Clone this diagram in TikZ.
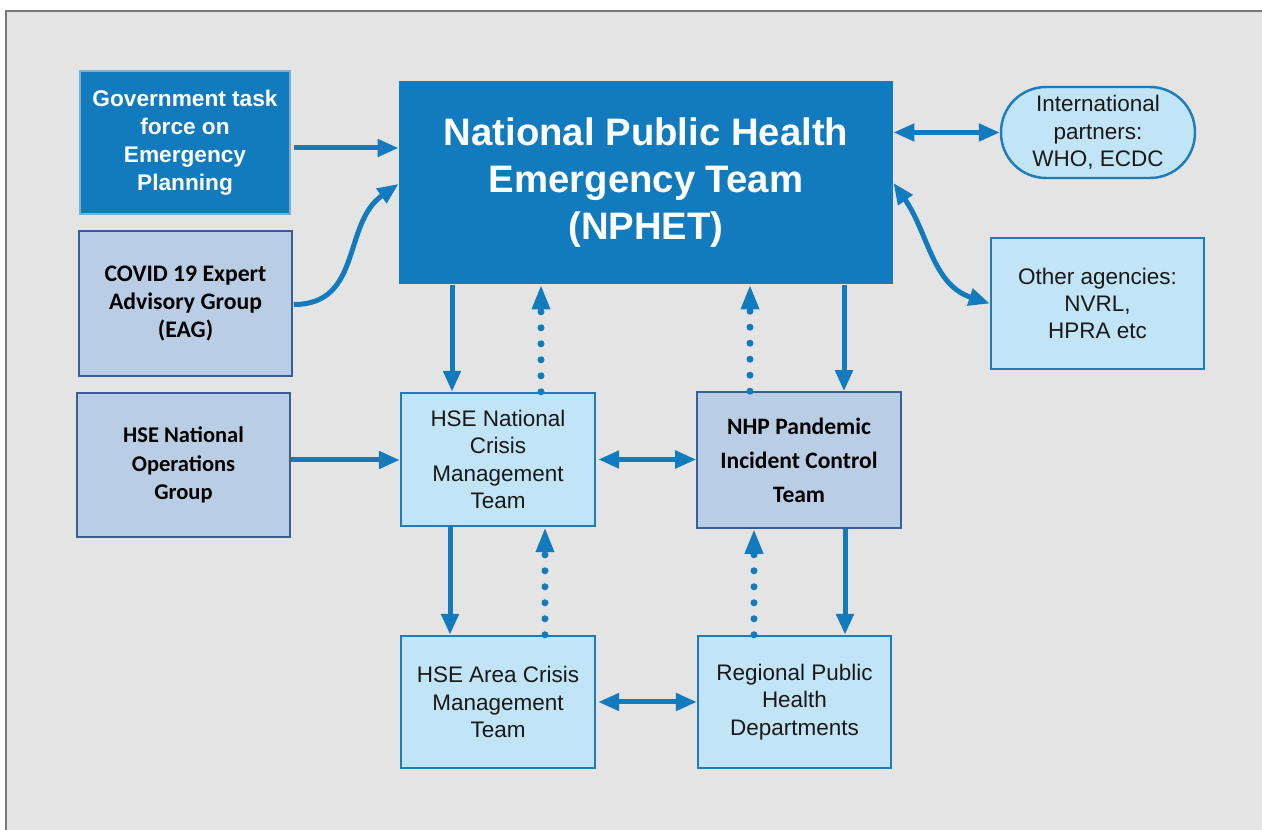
\documentclass[tikz,border=0pt]{standalone}
\usepackage{fontspec}
\usepackage{xcolor}
\setmainfont{Liberation Sans}
\newfontfamily\calibri{Carlito}
\usetikzlibrary{arrows.meta,calc}

\definecolor{nphetblue}{RGB}{17,123,190}
\definecolor{govedge}{RGB}{120,175,215}
\definecolor{steelfill}{RGB}{185,205,228}
\definecolor{steeledge}{RGB}{55,95,150}
\definecolor{skyfill}{RGB}{193,228,246}
\definecolor{skyedge}{RGB}{30,125,185}
\definecolor{bggray}{RGB}{228,228,228}
\definecolor{framegray}{RGB}{120,120,120}

\tikzset{
  darkbox/.style={fill=nphetblue, draw=govedge, line width=0.6pt, text=white,
    align=center, inner sep=0pt},
  steelbox/.style={fill=steelfill, draw=steeledge, line width=0.9pt, text=black,
    align=center, inner sep=0pt},
  skybox/.style={fill=skyfill, draw=skyedge, line width=1.4pt, text=black!90,
    align=center, inner sep=0pt,
    font=\fontsize{12.8pt}{15.6pt}\selectfont},
  arr/.style={draw=nphetblue, line width=0.1cm,
    -{Triangle[length=0.42cm,width=0.34cm]}},
  dblarr/.style={draw=nphetblue, line width=0.1cm,
    {Triangle[length=0.42cm,width=0.34cm]}-{Triangle[length=0.42cm,width=0.34cm]}},
  dotarr/.style={draw=nphetblue, line width=0.14cm, line cap=round,
    dash pattern=on 0pt off 0.32cm,
    -{Triangle[length=0.5cm,width=0.34cm,line cap=butt]}}
}

\begin{document}
\begin{tikzpicture}[x=0.02cm,y=-0.02cm]
  \useasboundingbox (0,0) rectangle (1262,830);
  \fill[white] (0,0) rectangle (1262,830);
  \fill[bggray] (6,11) rectangle (1262,830);
  \draw[framegray, line width=1pt] (6,830) -- (6,11) -- (1262,11);

  % top row
  \node[darkbox, minimum width=4.2cm, minimum height=2.86cm,
    font=\bfseries\fontsize{12.9pt}{15.9pt}\selectfont] (gov) at (185,142.5)
    {Government task\\force on\\Emergency\\Planning};
  \node[darkbox, draw=none, minimum width=9.88cm, minimum height=4.06cm,
    font=\bfseries\fontsize{21.8pt}{26.6pt}\selectfont] (nphet) at (646,182.5)
    {National Public Health\\Emergency Team\\(NPHET)};
  \node[skybox, rounded corners=0.9cm, minimum width=3.88cm, minimum height=1.82cm]
    (intl) at (1098,132.5) {International\\partners:\\WHO, ECDC};

  % left column
  \node[steelbox, minimum width=4.26cm, minimum height=2.9cm,
    font=\calibri\bfseries\fontsize{13.5pt}{16.2pt}\selectfont] (eag) at (185.5,303.5)
    {COVID 19 Expert\\Advisory Group\\(EAG)};
  \node[steelbox, minimum width=4.26cm, minimum height=2.88cm,
    font=\calibri\bfseries\fontsize{12.8pt}{16.4pt}\selectfont] (ops) at (183.5,465)
    {HSE National\\Operations\\Group};
  \node[skybox, minimum width=4.26cm, minimum height=2.62cm] (other) at (1097.5,303.5)
    {Other agencies:\\NVRL,\\HPRA etc};

  % middle rows
  \node[skybox, minimum width=3.88cm, minimum height=2.66cm] (nct) at (498,459.5)
    {HSE National\\Crisis\\Management\\Team};
  \node[steelbox, minimum width=4.08cm, minimum height=2.72cm,
    font=\calibri\bfseries\fontsize{13.4pt}{19.3pt}\selectfont] (nhp) at (799,460)
    {NHP Pandemic\\Incident Control\\Team};
  \node[skybox, minimum width=3.88cm, minimum height=2.64cm] (area) at (498,702)
    {HSE Area Crisis\\Management\\Team};
  \node[skybox, minimum width=3.86cm, minimum height=2.64cm] (reg) at (794.5,702)
    {Regional Public\\Health\\Departments};

  % x positions of the vertical links
  \coordinate (c1) at (452,0);
  \coordinate (c2) at (541,0);
  \coordinate (c3) at (750,0);
  \coordinate (c4) at (844,0);
  \coordinate (c5) at (450,0);
  \coordinate (c6) at (545,0);
  \coordinate (c7) at (754,0);
  \coordinate (c8) at (845,0);

  % links into NPHET
  \draw[arr] ($(gov.east)+(3,5.5)$) -- ($(gov.east -| nphet.west)+(0,5.5)$);
  \draw[arr] ($(eag.east)+(1,1)$) to[out=0, in=215, looseness=1.1] ($(nphet.west)+(0,1.5)$);
  \draw[dblarr] (intl.west -| nphet.east) -- (intl.west);
  \draw[dblarr] ($(nphet.east)+(0,0.5)$) to[out=-55, in=162] (other.west);

  % NPHET to the teams
  \draw[arr] (c1 |- nphet.south) -- (c1 |- nct.north);
  \draw[dotarr] (c2 |- nct.north) -- (c2 |- nphet.south);
  \draw[dotarr] (c3 |- nhp.north) -- (c3 |- nphet.south);
  \draw[arr] (c4 |- nphet.south) -- (c4 |- nhp.north);

  % middle row
  \draw[arr] ($(ops.east)+(0,-5)$) -- ($(ops.east -| nct.west)+(0,-5)$);
  \draw[dblarr] ($(nct.east)+(2,0)$) -- (nct.east -| nhp.west);

  % teams to the regions
  \draw[arr] (c5 |- nct.south) -- (c5 |- area.north);
  \draw[dotarr] (c6 |- area.north) -- (c6 |- nct.south);
  \draw[dotarr] (c7 |- reg.north) -- (c7 |- nhp.south);
  \draw[arr] (c8 |- nhp.south) -- (c8 |- reg.north);
  \draw[dblarr] ($(area.east)+(2,0)$) -- (area.east -| reg.west);
\end{tikzpicture}
\end{document}
